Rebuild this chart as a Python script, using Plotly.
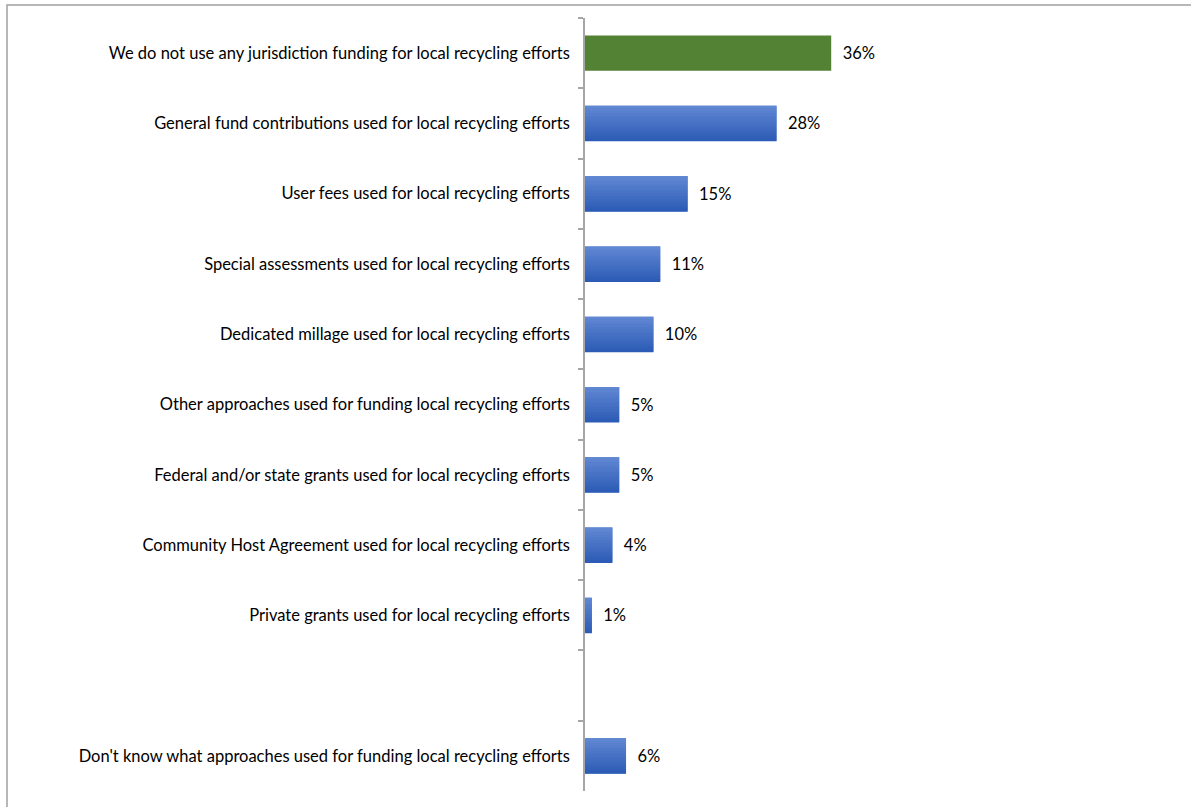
import plotly.graph_objects as go

# Funding approaches for local recycling (share of respondents)
categories = [
    "We do not use any jurisdiction funding for local recycling efforts",
    "General fund contributions used for local recycling efforts",
    "User fees used for local recycling efforts",
    "Special assessments used for local recycling efforts",
    "Dedicated millage used for local recycling efforts",
    "Other approaches used for funding local recycling efforts",
    "Federal and/or state grants used for local recycling efforts",
    "Community Host Agreement used for local recycling efforts",
    "Private grants used for local recycling efforts",
    " ",
    "Don't know what approaches used for funding local recycling efforts",
]
shares = [0.36, 0.28, 0.15, 0.11, 0.10, 0.05, 0.05, 0.04, 0.01, None, 0.06]
highlight = [True] + [False] * 10

GREEN = "#548235"
BLUE_TOP = (96, 135, 210)
BLUE_BOTTOM = (45, 92, 182)

W, H = 1191, 807
ML, MR, MT, MB = 585, 11, 18, 16
plot_w = W - ML - MR
plot_h = H - MT - MB
FONT = "Lato, sans-serif"
BAR_W = 0.5

fig = go.Figure()

# base bars carrying the value labels
fig.add_trace(
    go.Bar(
        x=shares,
        y=categories,
        orientation="h",
        width=BAR_W,
        marker=dict(
            color=[GREEN if h else "rgb(64,112,198)" for h in highlight],
            line=dict(width=0),
        ),
        texttemplate="\u00a0\u00a0%{x:.0%}",
        textposition="outside",
        textfont=dict(family=FONT, size=16.5, color="#000000"),
        cliponaxis=False,
        hoverinfo="skip",
    )
)

# vertical shading on the blue bars: thin horizontal bands, light on top
N_BANDS = 14
blue_shares = [None if h else v for h, v in zip(highlight, shares)]
band = BAR_W / N_BANDS
for k in range(N_BANDS):
    t = k / (N_BANDS - 1)
    rgb = tuple(round(a + (b - a) * t) for a, b in zip(BLUE_TOP, BLUE_BOTTOM))
    fig.add_trace(
        go.Bar(
            x=blue_shares,
            y=categories,
            orientation="h",
            width=band * 1.15,
            offset=-BAR_W / 2 + k * band,
            marker=dict(color="rgb(%d,%d,%d)" % rgb, line=dict(width=0)),
            hoverinfo="skip",
        )
    )

# frame around the chart area (left and top edges visible)
fig.add_shape(
    type="rect",
    xref="paper", yref="paper",
    x0=(7 - ML) / plot_w, x1=1.2,
    y0=-0.2, y1=1 + (MT - 5) / plot_h,
    line=dict(color="#A0A0A0", width=1.5),
    fillcolor="rgba(0,0,0,0)",
    layer="below",
)

fig.update_layout(
    width=W, height=H,
    margin=dict(l=ML, r=MR, t=MT, b=MB),
    paper_bgcolor="white",
    plot_bgcolor="white",
    barmode="overlay",
    showlegend=False,
    font=dict(family=FONT, size=16.5, color="#000000"),
    xaxis=dict(
        range=[0, 0.87],
        visible=False,
        showgrid=False,
        zeroline=False,
    ),
    yaxis=dict(
        type="category",
        autorange="reversed",
        showline=True,
        linecolor="#A6A6A6",
        linewidth=1.5,
        ticks="outside",
        tickson="boundaries",
        ticklen=5,
        tickcolor="#A6A6A6",
        tickwidth=1.5,
        ticklabelstandoff=10,
        showgrid=False,
        zeroline=False,
        tickfont=dict(family=FONT, size=16.5, color="#000000"),
    ),
)

fig.write_html("out.html")
